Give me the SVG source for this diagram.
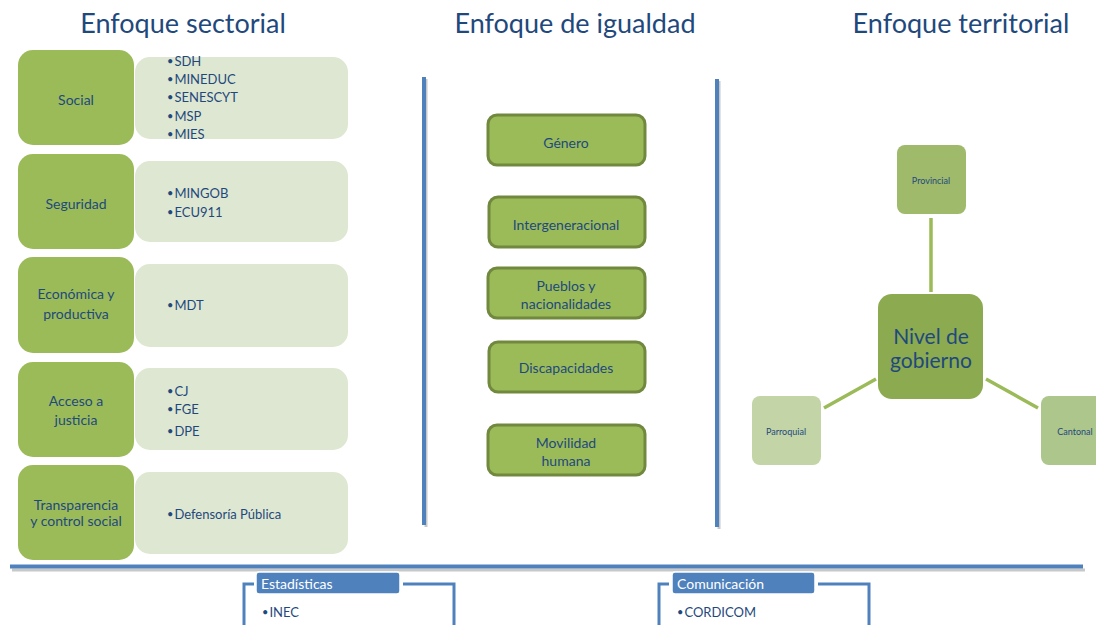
<svg xmlns="http://www.w3.org/2000/svg" width="1096" height="625" viewBox="0 0 1096 625">
<style>
text{font-family:"Lato","Liberation Sans",sans-serif;fill:#1F497D}
.title{font-size:27px}
.sec{fill:#9BBB59}
.list{fill:#DEE7D1}
.lbl{font-size:14px;text-anchor:middle}
.item{font-size:13px}
.b{font-size:11px}
.eq{fill:#9BBB59;stroke:#71893F;stroke-width:3}
.blue{stroke:#4F81BD;stroke-width:4;fill:none}
.shadow{stroke:#C8C8C8;stroke-width:3;fill:none}
.conn{stroke:#9BBB59;stroke-width:3.5;fill:none}
.small{font-size:9px;text-anchor:middle}
.frame{stroke:#4F81BD;stroke-width:3;fill:none}
.hdr{fill:#4F81BD;stroke:#FFFFFF;stroke-width:1.5}
.hdrt{fill:#FFFFFF;font-size:14px}
</style>
<rect width="1096" height="625" fill="#FFFFFF"/>
<g id="titles">
<text class="title" x="183" y="33" text-anchor="middle">Enfoque sectorial</text>
<text class="title" x="575" y="33" text-anchor="middle">Enfoque de igualdad</text>
<text class="title" x="961" y="33" text-anchor="middle">Enfoque territorial</text>
</g>
<g id="dividers">
<line class="shadow" x1="12" y1="570" x2="1085" y2="570"/>
<line class="blue" x1="10" y1="566.5" x2="1083" y2="566.5"/>
<line class="shadow" x1="426" y1="79" x2="426" y2="527"/>
<line class="blue" x1="424" y1="77" x2="424" y2="525"/>
<line class="shadow" x1="719" y1="81" x2="719" y2="529"/>
<line class="blue" x1="717" y1="79" x2="717" y2="527"/>
</g>
<g id="sector-social">
<rect class="list" x="135" y="57" width="213" height="82" rx="15"/>
<rect class="sec" x="18" y="50" width="116" height="95" rx="15"/>
<text class="lbl" x="76" y="105">Social</text>
<text class="item" x="167" y="66"><tspan class="b" dy="-1">•</tspan><tspan dx="1" dy="1">SDH</tspan></text>
<text class="item" x="167" y="84"><tspan class="b" dy="-1">•</tspan><tspan dx="1" dy="1">MINEDUC</tspan></text>
<text class="item" x="167" y="102"><tspan class="b" dy="-1">•</tspan><tspan dx="1" dy="1">SENESCYT</tspan></text>
<text class="item" x="167" y="121"><tspan class="b" dy="-1">•</tspan><tspan dx="1" dy="1">MSP</tspan></text>
<text class="item" x="167" y="139"><tspan class="b" dy="-1">•</tspan><tspan dx="1" dy="1">MIES</tspan></text>
</g>
<g id="sector-seguridad">
<rect class="list" x="135" y="161" width="213" height="81" rx="15"/>
<rect class="sec" x="18" y="154" width="116" height="95" rx="15"/>
<text class="lbl" x="76" y="209">Seguridad</text>
<text class="item" x="167" y="198"><tspan class="b" dy="-1">•</tspan><tspan dx="1" dy="1">MINGOB</tspan></text>
<text class="item" x="167" y="217"><tspan class="b" dy="-1">•</tspan><tspan dx="1" dy="1">ECU911</tspan></text>
</g>
<g id="sector-economica">
<rect class="list" x="135" y="264" width="213" height="83" rx="15"/>
<rect class="sec" x="18" y="257" width="116" height="96" rx="15"/>
<text class="lbl" x="76" y="299">Económica y</text>
<text class="lbl" x="76" y="319">productiva</text>
<text class="item" x="167" y="310"><tspan class="b" dy="-1">•</tspan><tspan dx="1" dy="1">MDT</tspan></text>
</g>
<g id="sector-justicia">
<rect class="list" x="135" y="368" width="213" height="82" rx="15"/>
<rect class="sec" x="18" y="362" width="116" height="95" rx="15"/>
<text class="lbl" x="76" y="406">Acceso a</text>
<text class="lbl" x="76" y="425">justicia</text>
<text class="item" x="167" y="396"><tspan class="b" dy="-1">•</tspan><tspan dx="1" dy="1">CJ</tspan></text>
<text class="item" x="167" y="414"><tspan class="b" dy="-1">•</tspan><tspan dx="1" dy="1">FGE</tspan></text>
<text class="item" x="167" y="436"><tspan class="b" dy="-1">•</tspan><tspan dx="1" dy="1">DPE</tspan></text>
</g>
<g id="sector-transparencia">
<rect class="list" x="135" y="472" width="213" height="82" rx="15"/>
<rect class="sec" x="18" y="465" width="116" height="95" rx="15"/>
<text class="lbl" x="76" y="510">Transparencia</text>
<text class="lbl" x="76" y="526">y control social</text>
<text class="item" x="167" y="519"><tspan class="b" dy="-1">•</tspan><tspan dx="1" dy="1">Defensoría Pública</tspan></text>
</g>
<g id="eq-genero">
<rect class="eq" x="488" y="115" width="157" height="50" rx="9"/>
<text class="lbl" x="566" y="148">Género</text>
</g>
<g id="eq-intergeneracional">
<rect class="eq" x="489" y="197" width="156" height="50" rx="9"/>
<text class="lbl" x="566" y="230">Intergeneracional</text>
</g>
<g id="eq-pueblos">
<rect class="eq" x="488" y="268" width="157" height="50" rx="9"/>
<text class="lbl" x="566" y="291">Pueblos y</text>
<text class="lbl" x="566" y="309">nacionalidades</text>
</g>
<g id="eq-discapacidades">
<rect class="eq" x="489" y="342" width="156" height="50" rx="9"/>
<text class="lbl" x="566" y="373">Discapacidades</text>
</g>
<g id="eq-movilidad">
<rect class="eq" x="488" y="425" width="157" height="50" rx="9"/>
<text class="lbl" x="566" y="448">Movilidad</text>
<text class="lbl" x="566" y="466">humana</text>
</g>
<g id="connectors">
<line class="conn" x1="931" y1="218" x2="931" y2="292"/>
<line class="conn" x1="876" y1="379" x2="824" y2="408"/>
<line class="conn" x1="986" y1="379" x2="1038" y2="408"/>
</g>
<g id="terr-provincial">
<rect x="897" y="145" width="69" height="69" rx="8" fill="#9FBA6B"/>
<text class="small" x="931" y="184">Provincial</text>
</g>
<g id="terr-nivel">
<rect x="878" y="294" width="105" height="105" rx="14" fill="#8CAA50"/>
<text x="931" y="344" font-size="21" text-anchor="middle">Nivel de</text>
<text x="931" y="368" font-size="21" text-anchor="middle">gobierno</text>
</g>
<g id="terr-parroquial">
<rect x="752" y="396" width="69" height="69" rx="8" fill="#C3D4A6"/>
<text class="small" x="786" y="435">Parroquial</text>
</g>
<g id="terr-cantonal">
<rect x="1041" y="396" width="69" height="69" rx="8" fill="#ADC68B"/>
<text class="small" x="1075" y="435">Cantonal</text>
</g>
<g id="box-estadisticas">
<polyline class="frame" points="244,625 244,584 254,584"/>
<polyline class="frame" points="403,584 454,584 454,625"/>
<rect class="hdr" x="256" y="572" width="144" height="22" rx="3"/>
<text class="hdrt" x="261" y="589">Estadísticas</text>
<text class="item" x="262" y="617"><tspan class="b" dy="-1">•</tspan><tspan dx="1" dy="1">INEC</tspan></text>
</g>
<g id="box-comunicacion">
<polyline class="frame" points="659,625 659,584 669,584"/>
<polyline class="frame" points="818,584 869,584 869,625"/>
<rect class="hdr" x="672" y="572" width="143" height="22" rx="3"/>
<text class="hdrt" x="677" y="589">Comunicación</text>
<text class="item" x="677" y="617"><tspan class="b" dy="-1">•</tspan><tspan dx="1" dy="1">CORDICOM</tspan></text>
</g>
</svg>
